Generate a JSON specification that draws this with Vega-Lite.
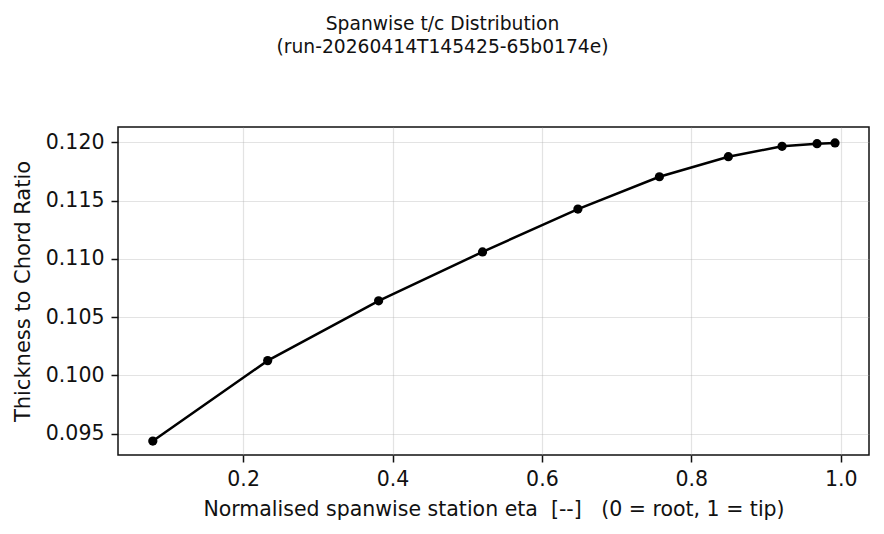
{
  "$schema": "https://vega.github.io/schema/vega-lite/v6.json",
  "width": 751,
  "height": 328,
  "autosize": "none",
  "padding": {"left": 118, "top": 127, "right": 15, "bottom": 79},
  "background": "white",
  "config": {
    "font": "DejaVu Sans",
    "view": {"stroke": "#111", "strokeWidth": 1.5},
    "axis": {
      "domain": false,
      "grid": true,
      "gridColor": "#b0b0b0",
      "gridOpacity": 0.35,
      "gridWidth": 1.2,
      "tickColor": "#111",
      "tickSize": 7,
      "tickWidth": 1.5,
      "labelColor": "#111",
      "labelFont": "DejaVu Sans",
      "labelFontSize": 20.5,
      "labelPadding": 7,
      "titleColor": "#111",
      "titleFont": "DejaVu Sans",
      "titleFontSize": 20.5,
      "titleFontWeight": "normal"
    }
  },
  "title": {
    "text": ["Spanwise t/c Distribution", "(run-20260414T145425-65b0174e)"],
    "font": "DejaVu Sans",
    "fontSize": 18.7,
    "fontWeight": "normal",
    "color": "#111",
    "anchor": "middle",
    "dx": -51,
    "offset": 70,
    "lineHeight": 23
  },
  "data": {
    "values": [
      {"eta": 0.0791, "tc": 0.09437},
      {"eta": 0.2329, "tc": 0.10127},
      {"eta": 0.3814, "tc": 0.1064},
      {"eta": 0.5205, "tc": 0.1106},
      {"eta": 0.6482, "tc": 0.11428},
      {"eta": 0.7573, "tc": 0.11705},
      {"eta": 0.8496, "tc": 0.11877},
      {"eta": 0.9215, "tc": 0.11966},
      {"eta": 0.9683, "tc": 0.11989},
      {"eta": 0.9924, "tc": 0.11995}
    ]
  },
  "encoding": {
    "x": {
      "field": "eta",
      "type": "quantitative",
      "scale": {"domain": [0.0325, 1.0379], "nice": false, "zero": false},
      "axis": {
        "values": [0.2, 0.4, 0.6, 0.8, 1.0],
        "format": ".1f",
        "title": "Normalised spanwise station eta\u00a0 [--]\u00a0\u00a0 (0 = root, 1 = tip)",
        "titlePadding": 10
      }
    },
    "y": {
      "field": "tc",
      "type": "quantitative",
      "scale": {"domain": [0.09317, 0.12132], "nice": false, "zero": false},
      "axis": {
        "values": [0.095, 0.1, 0.105, 0.11, 0.115, 0.12],
        "format": ".3f",
        "title": "Thickness to Chord Ratio",
        "titleFontSize": 21,
        "titlePadding": 12
      }
    }
  },
  "layer": [
    {"mark": {"type": "line", "color": "black", "strokeWidth": 2.5}},
    {"mark": {"type": "point", "filled": true, "color": "black", "opacity": 1, "size": 85}}
  ]
}
